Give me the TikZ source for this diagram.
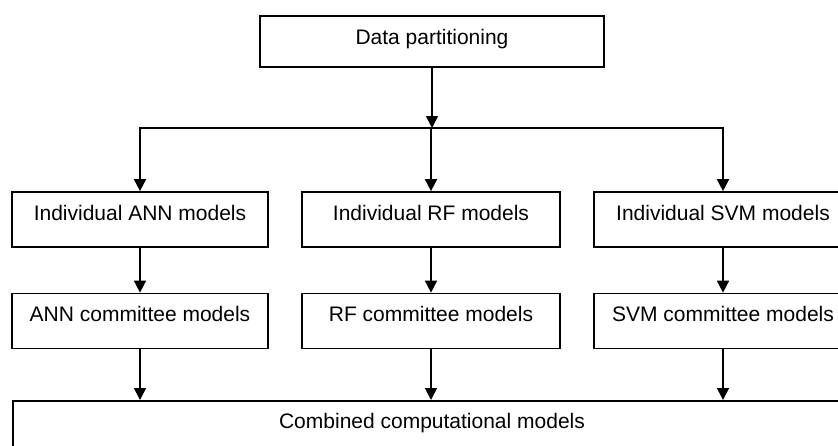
\documentclass[tikz,border=0pt]{standalone}
\usepackage{fontspec}
\setmainfont{Liberation Sans}
\usetikzlibrary{arrows.meta}
\begin{document}
\begin{tikzpicture}[x=1pt,y=-1pt,
  lbl/.style={font=\fontsize{21}{25}\selectfont},
  box/.style={lbl, draw, line width=1.7pt, inner sep=0pt, minimum height=55pt,
    text height=15pt, text depth=14pt},
  link/.style={line width=1.7pt, line join=miter, -{Triangle[width=12pt,length=12pt]}},
]
\useasboundingbox (0,0) rectangle (838,445);
\clip (0,0) rectangle (838,445);

% top box
\node[box, minimum width=344pt, minimum height=51pt, text depth=10pt] (data) at (432,41.5) {Data partitioning};

% first row: individual models
\node[box, minimum width=256pt] (annI) at (140,219.5) {Individual ANN models};
\node[box, minimum width=258pt] (rfI)  at (431,219.5) {Individual RF models};
\node[box, minimum width=258pt] (svmI) at (723,219.5) {Individual SVM models};

% second row: committee models
\node[box, minimum width=256pt] (annC) at (140,321) {ANN committee models};
\node[box, minimum width=258pt] (rfC)  at (431,321) {RF committee models};
\node[box, minimum width=258pt] (svmC) at (723,321) {SVM committee models};

% bottom box, running off the right and lower edges
\node[draw, line width=1.7pt, inner sep=0pt, anchor=north west,
      minimum width=860pt, minimum height=60pt] (comb) at (12,400) {};
\node[lbl, anchor=base, inner sep=0pt] (combtxt) at (432,428) {Combined computational models};

% branching from the top box
\coordinate (br) at (0,128);
\draw[link] (data.south) -- (data.south |- br);
\draw[link] (rfI.north |- br) -| (annI.north);
\draw[link] (rfI.north |- br) -| (svmI.north);
\draw[link] (rfI.north |- br) -- (rfI.north);

% individual -> committee
\draw[link] (annI) -- (annC);
\draw[link] (rfI) -- (rfC);
\draw[link] (svmI) -- (svmC);

% committee -> combined
\draw[link] (annC.south) -- (annC.south |- comb.north);
\draw[link] (rfC.south) -- (rfC.south |- comb.north);
\draw[link] (svmC.south) -- (svmC.south |- comb.north);
\end{tikzpicture}
\end{document}
